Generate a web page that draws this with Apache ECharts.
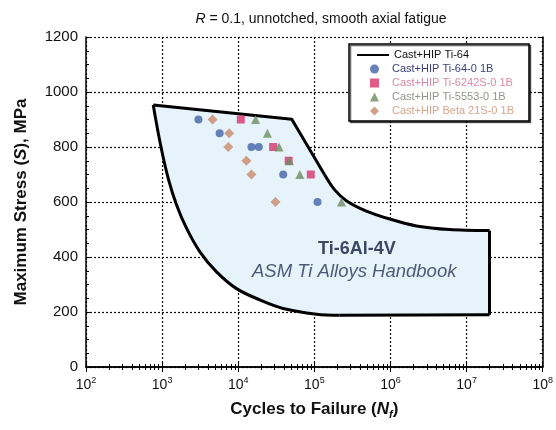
<!DOCTYPE html>
<html>
<head>
<meta charset="utf-8">
<script src="https://cdn.jsdelivr.net/npm/echarts@6/dist/echarts.min.js"></script>
<style>html,body{margin:0;padding:0;background:#fff;}#c{width:556px;height:430px;}</style>
</head>
<body>
<div id="c"></div>
<script>
// Envelope of Cast+HIP Ti-64 (ASM Ti Alloys Handbook), cycles / MPa, split into outline pieces
var topEdgeN = [764, 50500, 137000];
var topEdgeS = [953, 901, 698];
var rightCurveN = [137000, 185000, 266000, 483000, 977000, 2190000, 5980000, 20000000];
var rightCurveS = [698, 644, 604, 567, 538, 513, 500, 496];
var rightEdgeN = [20000000, 20000000];
var rightEdgeS = [496, 190];
var bottomEdgeN = [20000000, 215000];
var bottomEdgeS = [190, 188];
var leftCurveN = [215000, 106600, 38800, 19200, 9500, 5190, 3133, 2097, 1549, 1202, 955, 764];
var leftCurveS = [188, 192, 213, 244, 285, 346, 419, 504, 589, 686, 807, 953];

var ti64N = [3000, 5700, 14900, 18600, 39000, 110000];
var ti64S = [900, 850, 800, 800, 700, 600];

var ti6242N = [10800, 28700, 46000, 89700];
var ti6242S = [900, 800, 750, 700];

var ti5553N = [16900, 24200, 34400, 47000, 64500, 227000];
var ti5553S = [900, 850, 800, 750, 700, 600];

var beta21N = [4600, 7600, 7400, 12800, 14900, 30800];
var beta21S = [900, 850, 800, 750, 700, 600];

var seriesNames = ['Cast+HIP Ti-64', 'Cast+HIP Ti-64-0 1B', 'Cast+HIP Ti-6242S-0 1B', 'Cast+HIP Ti-5553-0 1B', 'Cast+HIP Beta 21S-0 1B'];
var yTicks = [0, 200, 400, 600, 800, 1000, 1200];

function zip(a, b) { return a.map(function (v, i) { return [v, b[i]]; }); }

var colors = ['#000000', '#4263a8', '#d8356c', '#6e8c62', '#c9886a'];
var textColors = ['#111111', '#3a3f7a', '#d98aa6', '#8c9a8a', '#d6a58c'];

var pieces = [
  { n: topEdgeN, s: topEdgeS, smooth: 0 },
  { n: rightCurveN, s: rightCurveS, smooth: 0.3 },
  { n: rightEdgeN, s: rightEdgeS, smooth: 0 },
  { n: bottomEdgeN, s: bottomEdgeS, smooth: 0 },
  { n: leftCurveN, s: leftCurveS, smooth: 0.35 }
];

var chart = echarts.init(document.getElementById('c'));
var grid = { left: 86, right: 13, top: 37, bottom: 63, show: false };

var xAxisBase = {
  type: 'log', logBase: 10, min: 100, max: 1e8,
  axisLine: { show: true, lineStyle: { color: '#000', width: 1.5 } },
  axisTick: { show: true, inside: true, length: 5, lineStyle: { color: '#000' } },
  minorTick: { show: true, splitNumber: 9, length: 3, lineStyle: { color: '#000' } }
};

var option = {
  animation: false,
  backgroundColor: '#fff',
  title: {
    text: '{i|R}{n| = 0.1, unnotched, smooth axial fatigue}',
    left: 316, top: 7, textAlign: 'center',
    textStyle: {
      fontWeight: 'normal',
      rich: {
        i: { fontFamily: 'Liberation Sans', fontStyle: 'italic', fontWeight: 'normal', fontSize: 14, color: '#111' },
        n: { fontFamily: 'Liberation Sans', fontWeight: 'normal', fontSize: 14, color: '#111' }
      }
    }
  },
  grid: grid,
  legend: [
    {
      data: [{ name: seriesNames[0], itemStyle: { opacity: 0 }, lineStyle: { width: 2 } }],
      left: 356, top: 48, padding: 0, itemWidth: 32, itemHeight: 9, itemGap: 0,
      orient: 'vertical', z: 10,
      textStyle: { fontFamily: 'Liberation Sans', fontSize: 11, lineHeight: 14, color: textColors[0] }
    },
    {
      data: [
        { name: seriesNames[1], textStyle: { color: textColors[1] } },
        { name: seriesNames[2], textStyle: { color: textColors[2] } },
        { name: seriesNames[3], textStyle: { color: textColors[3] } },
        { name: seriesNames[4], textStyle: { color: textColors[4] } }
      ],
      left: 370, top: 62, padding: 0, itemWidth: 9, itemHeight: 9, itemGap: 0,
      orient: 'vertical', z: 10,
      textStyle: { fontFamily: 'Liberation Sans', fontSize: 11, lineHeight: 14, padding: [0, 0, 0, 8] }
    }
  ],
  graphic: [
    {
      type: 'rect', z: 5, silent: true,
      shape: { x: 349, y: 44, width: 180, height: 77 },
      style: { fill: '#fff', stroke: '#000', lineWidth: 1.5, shadowColor: 'rgba(0,0,0,0.6)', shadowOffsetX: 1.5, shadowOffsetY: 1.5 }
    },
    {
      type: 'text', z: 6, silent: true, left: 318, top: 240,
      style: { text: 'Ti-6Al-4V', font: 'bold 18px "Liberation Sans"', fill: '#3c4763' }
    },
    {
      type: 'text', z: 6, silent: true, left: 252, top: 262,
      style: { text: 'ASM Ti Alloys Handbook', font: 'italic 18.5px "Liberation Sans"', fill: '#4d5b78' }
    }
  ],
  xAxis: [
    Object.assign({}, xAxisBase, {
      position: 'bottom',
      name: '{b|Cycles to Failure (}{i|N}{s|f}{b|)}',
      nameLocation: 'middle', nameGap: 32,
      nameTextStyle: {
        rich: {
          b: { fontFamily: 'Liberation Sans', fontWeight: 'bold', fontSize: 17, color: '#111' },
          i: { fontFamily: 'Liberation Sans', fontWeight: 'bold', fontStyle: 'italic', fontSize: 17, color: '#111' },
          s: { fontFamily: 'Liberation Sans', fontWeight: 'bold', fontStyle: 'italic', fontSize: 11, color: '#111', padding: [10, 0, 0, 0] }
        }
      },
      axisLabel: {
        margin: 9,
        formatter: function (v) { return '{b|10}{s|' + Math.round(Math.log10(v)) + '}'; },
        rich: {
          b: { fontFamily: 'Liberation Sans', fontSize: 14, color: '#111' },
          s: { fontFamily: 'Liberation Sans', fontSize: 9, color: '#111', padding: [0, 0, 9, 0] }
        }
      },
      splitLine: { show: true, lineStyle: { color: '#111', type: [2, 2], width: 1.2 } }
    }),
    Object.assign({}, xAxisBase, {
      position: 'top', axisLabel: { show: false }, splitLine: { show: false }
    })
  ],
  yAxis: [
    {
      type: 'value', min: 0, max: 1200, interval: 200,
      name: '{b|Maximum Stress (}{i|S}{b|), MPa}',
      nameLocation: 'middle', nameGap: 56,
      nameTextStyle: {
        rich: {
          b: { fontFamily: 'Liberation Sans', fontWeight: 'bold', fontSize: 17, color: '#111' },
          i: { fontFamily: 'Liberation Sans', fontWeight: 'bold', fontStyle: 'italic', fontSize: 17, color: '#111' }
        }
      },
      axisLine: { show: true, lineStyle: { color: '#000', width: 1.5 } },
      axisTick: { show: true, inside: true, length: 5, lineStyle: { color: '#000' } },
      minorTick: { show: true, splitNumber: 4, length: 3, lineStyle: { color: '#000' } },
      axisLabel: {
        margin: 8, fontFamily: 'Liberation Sans', fontSize: 15, color: '#111',
        formatter: function (v) { return yTicks.indexOf(v) >= 0 ? String(v) : ''; }
      },
      splitLine: { show: true, lineStyle: { color: '#111', type: [2, 2], width: 1.2 } }
    },
    {
      type: 'value', min: 0, max: 1200, interval: 200, position: 'right',
      axisLine: { show: true, lineStyle: { color: '#000', width: 1.5 } },
      axisTick: { show: true, inside: true, length: 5, lineStyle: { color: '#000' } },
      minorTick: { show: true, splitNumber: 4, length: 3, lineStyle: { color: '#000' } },
      axisLabel: { show: false }, splitLine: { show: false }
    }
  ],
  series: [
    {
      type: 'custom', name: 'envelope', coordinateSystem: 'cartesian2d', z: 2, silent: true,
      data: [[1000, 500]],
      renderItem: function (params, api) {
        var fillPts = [];
        var children = [];
        pieces.forEach(function (p) {
          var pts = p.n.map(function (n, i) { return api.coord([n, p.s[i]]); });
          fillPts = fillPts.concat(pts);
          children.push({
            type: 'polyline', z2: 2,
            shape: { points: pts, smooth: p.smooth },
            style: { stroke: '#000', lineWidth: 3, fill: 'none', lineJoin: 'round' }
          });
        });
        children.unshift({ type: 'polygon', z2: 1, shape: { points: fillPts }, style: { fill: '#e6f3fa', stroke: 'none' } });
        return { type: 'group', children: children };
      }
    },
    {
      type: 'line', name: seriesNames[0], data: [], symbol: 'none', z: 3,
      lineStyle: { color: '#000', width: 3 }, itemStyle: { color: '#000' }, silent: true
    },
    {
      type: 'scatter', name: seriesNames[1], data: zip(ti64N, ti64S), symbol: 'circle', symbolSize: 8, z: 4,
      itemStyle: { color: colors[1] }
    },
    {
      type: 'scatter', name: seriesNames[2], data: zip(ti6242N, ti6242S), symbol: 'rect', symbolSize: 8, z: 4,
      itemStyle: { color: colors[2] }
    },
    {
      type: 'scatter', name: seriesNames[3], data: zip(ti5553N, ti5553S), symbol: 'triangle', symbolSize: 9, z: 4,
      itemStyle: { color: colors[3] }
    },
    {
      type: 'scatter', name: seriesNames[4], data: zip(beta21N, beta21S), symbol: 'diamond', symbolSize: 10, z: 4,
      itemStyle: { color: colors[4] }
    }
  ]
};
chart.setOption(option);
</script>
</body>
</html>
